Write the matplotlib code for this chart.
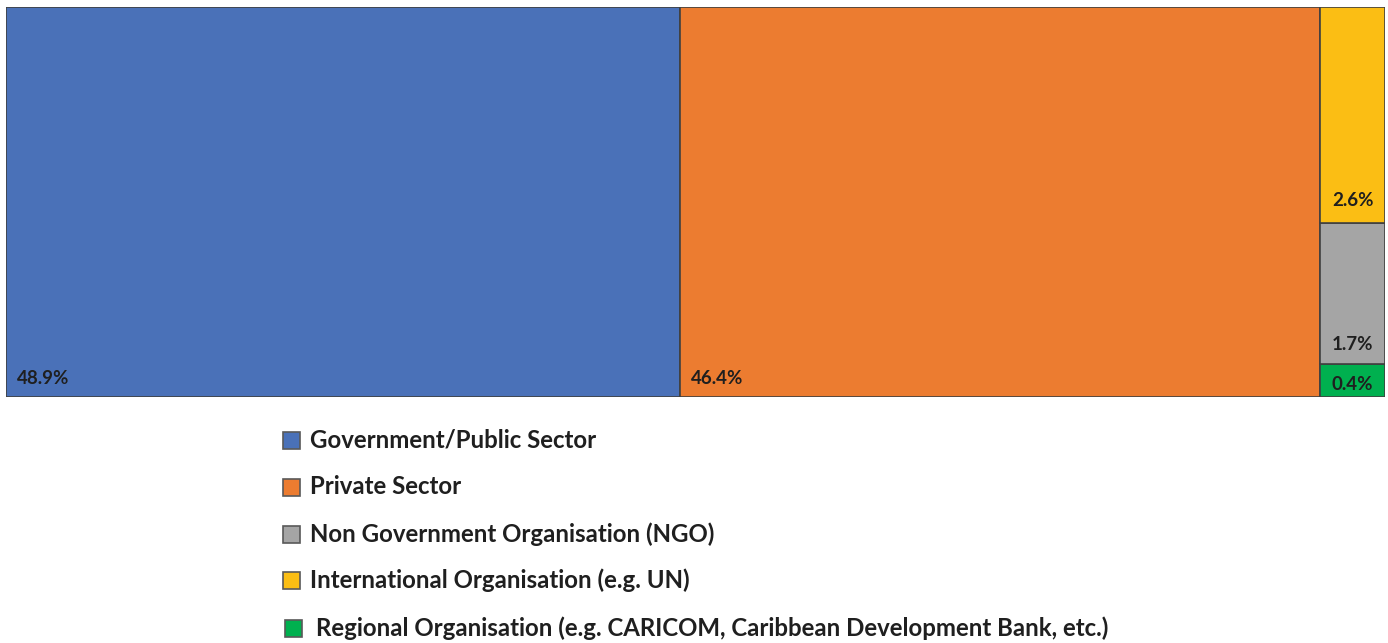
import matplotlib.pyplot as plt
from matplotlib.patches import Rectangle

# Data
categories = ['Government/Public Sector', 'Private Sector', 'Non Government Organisation (NGO)',
              'International Organisation (e.g. UN)',
              'Regional Organisation (e.g. CARICOM, Caribbean Development Bank, etc.)']
values = [48.9, 46.4, 1.7, 2.6, 0.4]
colors = ['#4A71B8', '#EC7C30', '#A5A5A5', '#FBBE14', '#00B04F']

plt.rcParams['font.family'] = ['Lato', 'DejaVu Sans']
plt.rcParams['font.weight'] = 'bold'

W, H = 1388, 643
fig = plt.figure(figsize=(W / 100, H / 100), dpi=100)

# treemap area in pixels: x 6..1385, y 7..397 (from top)
ax = fig.add_axes([6 / W, 1 - 397 / H, 1379 / W, 390 / H])
ax.set_xlim(0, 100)
ax.set_ylim(0, 100)
ax.axis('off')

total = sum(values)
edge = '#404040'
txt_col = '#1f1f1f'
px = 0.72  # points per pixel at dpi 100

# two big cells side by side
x0 = 0
for i in range(2):
    w = values[i] / total * 100
    ax.add_patch(Rectangle((x0, 0), w, 100, facecolor=colors[i], edgecolor=edge, lw=1.2))
    ax.annotate(f'{values[i]}%', (x0, 0), xytext=(11 * px, 19 * px), textcoords='offset points',
                ha='left', va='center', fontsize=13.5, fontweight='bold', color=txt_col)
    x0 += w

# remaining column stacked: green bottom, gray, yellow top
col_w = 100 - x0
col_total = values[2] + values[3] + values[4]
y0 = 0
lift = {4: 12, 2: 19, 3: 22}
for i in [4, 2, 3]:
    h = values[i] / col_total * 100
    ax.add_patch(Rectangle((x0, y0), col_w, h, facecolor=colors[i], edgecolor=edge, lw=1.2))
    ax.annotate(f'{values[i]}%', (x0 + col_w / 2, y0), xytext=(0, lift[i] * px),
                textcoords='offset points', ha='center', va='center',
                fontsize=13.5, fontweight='bold', color=txt_col)
    y0 += h

# legend
rows_y = [440, 487, 534, 580, 628]
order = [0, 1, 2, 3, 4]
for k, i in enumerate(order):
    sx = 283 if k < 4 else 285
    tx = 310 if k < 4 else 316
    yc = rows_y[k]
    fig.patches.append(Rectangle((sx / W, 1 - (yc + 9) / H), 17 / W, 17 / H,
                                 transform=fig.transFigure, facecolor=colors[i],
                                 edgecolor='#595959', lw=1.2))
    fig.text(tx / W, 1 - yc / H, categories[i], ha='left', va='center',
             fontsize=17.3, fontweight='bold', color=txt_col)

fig.savefig('out.png', dpi=100)
